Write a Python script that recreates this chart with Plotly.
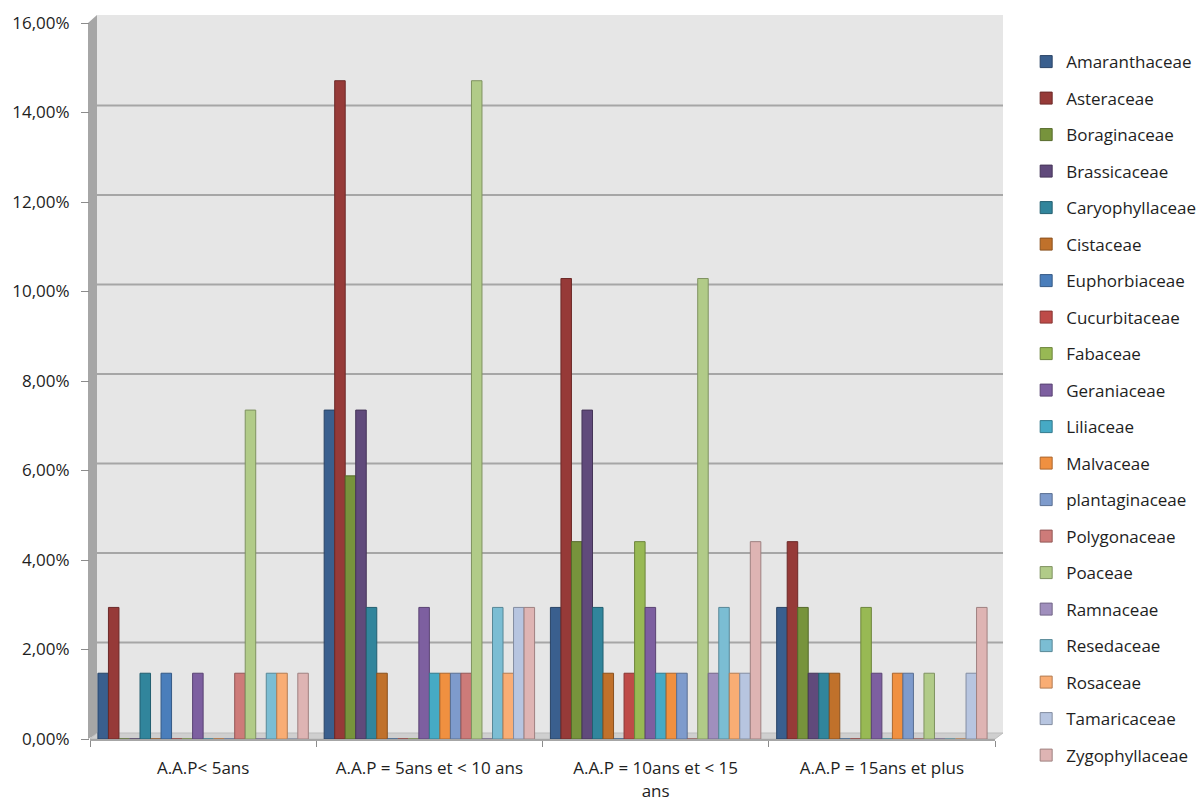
import plotly.graph_objects as go

# Age groups (x categories)
categories = [
    "A.A.P< 5ans",
    "A.A.P = 5ans et < 10 ans",
    "A.A.P = 10ans et < 15<br>ans",
    "A.A.P = 15ans et plus",
]

# Plant families (series)
families = [
    "Amaranthaceae", "Asteraceae", "Boraginaceae", "Brassicaceae",
    "Caryophyllaceae", "Cistaceae", "Euphorbiaceae", "Cucurbitaceae",
    "Fabaceae", "Geraniaceae", "Liliaceae", "Malvaceae",
    "plantaginaceae", "Polygonaceae", "Poaceae", "Ramnaceae",
    "Resedaceae", "Rosaceae", "Tamaricaceae", "Zygophyllaceae",
]

# Share of each family per age group, one list per family
amaranthaceae = [0.0147, 0.0735, 0.0294, 0.0294]
asteraceae = [0.0294, 0.1471, 0.1029, 0.0441]
boraginaceae = [0.0, 0.0588, 0.0441, 0.0294]
brassicaceae = [0.0, 0.0735, 0.0735, 0.0147]
caryophyllaceae = [0.0147, 0.0294, 0.0294, 0.0147]
cistaceae = [0.0, 0.0147, 0.0147, 0.0147]
euphorbiaceae = [0.0147, 0.0, 0.0, 0.0]
cucurbitaceae = [0.0, 0.0, 0.0147, 0.0]
fabaceae = [0.0, 0.0, 0.0441, 0.0294]
geraniaceae = [0.0147, 0.0294, 0.0294, 0.0147]
liliaceae = [0.0, 0.0147, 0.0147, 0.0]
malvaceae = [0.0, 0.0147, 0.0147, 0.0147]
plantaginaceae = [0.0, 0.0147, 0.0147, 0.0147]
polygonaceae = [0.0147, 0.0147, 0.0, 0.0]
poaceae = [0.0735, 0.1471, 0.1029, 0.0147]
ramnaceae = [0.0, 0.0, 0.0147, 0.0]
resedaceae = [0.0147, 0.0294, 0.0294, 0.0]
rosaceae = [0.0147, 0.0147, 0.0147, 0.0]
tamaricaceae = [0.0, 0.0294, 0.0147, 0.0147]
zygophyllaceae = [0.0147, 0.0294, 0.0441, 0.0294]

series = [
    amaranthaceae, asteraceae, boraginaceae, brassicaceae, caryophyllaceae,
    cistaceae, euphorbiaceae, cucurbitaceae, fabaceae, geraniaceae,
    liliaceae, malvaceae, plantaginaceae, polygonaceae, poaceae,
    ramnaceae, resedaceae, rosaceae, tamaricaceae, zygophyllaceae,
]

# Y axis ticks
y_tickvals = [0, 0.02, 0.04, 0.06, 0.08, 0.10, 0.12, 0.14, 0.16]
y_ticktext = ["0,00%", "2,00%", "4,00%", "6,00%", "8,00%",
              "10,00%", "12,00%", "14,00%", "16,00%"]

palette = [
    "#3A5F8E", "#963A38", "#77933C", "#604A7B", "#31859C", "#C0712B",
    "#4A7EBB", "#BE4B48", "#98B954", "#7D5FA0", "#46AAC5", "#F09040",
    "#7E9BCC", "#CD7B79", "#B1CB88", "#A08FBD", "#7BBDD3", "#F9AD74",
    "#B7C5E0", "#DEB4B3",
]


def darker(hex_color, f=0.72):
    h = hex_color.lstrip("#")
    r, g, b = (int(h[i:i + 2], 16) for i in (0, 2, 4))
    return "#%02X%02X%02X" % (int(r * f), int(g * f), int(b * f))


FONT = "Open Sans, Lato, sans-serif"
TEXT = "#1E1E1E"

fig = go.Figure()
for name, vals, col in zip(families, series, palette):
    fig.add_trace(go.Bar(
        name=name,
        x=categories,
        y=vals,
        legendgroup=name,
        marker=dict(color=col, line=dict(color=darker(col), width=1)),
    ))

# Chart walls (back wall, left side wall, floor) drawn in plot-area paper coords
W = 905.0   # plot area width in px
H = 716.0   # plot area height in px
shapes = [
    # back wall
    dict(type="rect", xref="paper", yref="paper",
         x0=7 / W, x1=913 / W, y0=5 / H, y1=724 / H,
         fillcolor="#E6E6E6", line=dict(width=0), layer="below"),
    # left side wall
    dict(type="path", xref="paper", yref="paper",
         path=f"M {-2/W},0 L {-2/W},{716/H} L {7/W},{724/H} L {7/W},{5/H} Z",
         fillcolor="#A6A6A6", line=dict(width=0), layer="below"),
    # floor
    dict(type="path", xref="paper", yref="paper",
         path=f"M 0,0 L 1,0 L {913/W},{6/H} L {7/W},{6/H} Z",
         fillcolor="#CFCFCF", line=dict(color="#BDBDBD", width=1), layer="below"),
]
# gridlines on the back wall
for v in y_tickvals[1:]:
    shapes.append(dict(
        type="line", xref="paper", yref="y", ysizemode="pixel", yanchor=v,
        x0=7 / W, x1=913 / W, y0=7, y1=7,
        line=dict(color="#A6A6A6", width=2), layer="below"))

fig.update_layout(
    width=1196, height=801,
    margin=dict(l=90, r=201, t=23, b=62),
    paper_bgcolor="white",
    plot_bgcolor="rgba(0,0,0,0)",
    barmode="group",
    bargap=0.07,
    bargroupgap=0,
    font=dict(family=FONT, size=17, color=TEXT),
    shapes=shapes,
    showlegend=True,
    legend=dict(
        xref="container", yref="container",
        x=0.858, y=0.945, xanchor="left", yanchor="top",
        font=dict(family=FONT, size=17, color=TEXT),
        tracegroupgap=11.4,
        itemwidth=30,
        maxheight=780,
        bgcolor="rgba(0,0,0,0)",
    ),
    xaxis=dict(
        automargin=False,
        tickson="boundaries",
        ticks="outside", ticklen=6, tickcolor="#8C8C8C", tickwidth=1,
        showline=True, linecolor="#A6A6A6", linewidth=2,
        showgrid=False,
        tickfont=dict(family=FONT, size=17, color=TEXT),
        ticklabelstandoff=13,
    ),
    yaxis=dict(
        automargin=False,
        range=[0, 0.16],
        tickvals=y_tickvals, ticktext=y_ticktext,
        ticks="outside", ticklen=8, tickcolor="#8C8C8C", tickwidth=1,
        showgrid=False, zeroline=False, showline=False,
        tickfont=dict(family=FONT, size=17, color=TEXT),
        ticklabelstandoff=8,
    ),
)

fig.write_html("out.html")
